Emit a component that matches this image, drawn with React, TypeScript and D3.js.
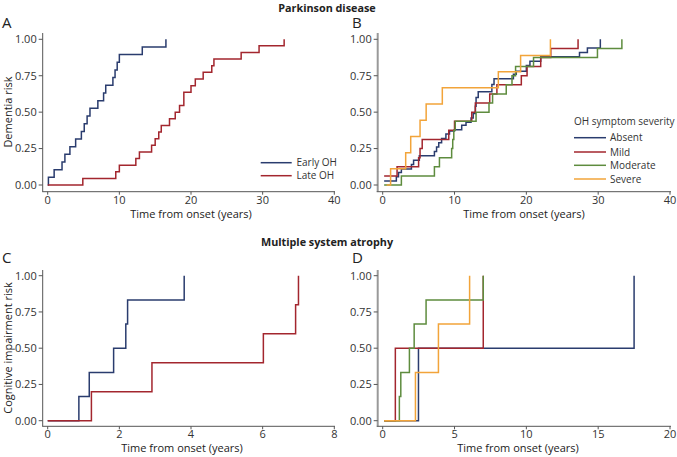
import React from "react";
import * as d3 from "d3";

// ---- Data ----
const yTicks = [0, 0.25, 0.5, 0.75, 1];
const xTicksPD = [0, 10, 20, 30, 40];
const xTicksMSAC = [0, 2, 4, 6, 8];
const xTicksMSAD = [0, 5, 10, 15, 20];

// Panel A
const earlyOHTimes = [0, 0.1, 0.9, 2.0, 2.4, 3.1, 3.9, 4.7, 5.1, 5.5, 5.9, 7.0, 7.8, 8.1, 9.1, 9.4, 9.7, 10.0, 13.2, 16.5];
const earlyOHRisk = [0, 0.053, 0.105, 0.158, 0.211, 0.263, 0.316, 0.368, 0.421, 0.474, 0.526, 0.579, 0.632, 0.684, 0.737, 0.789, 0.842, 0.895, 0.947, 1.0];
const lateOHTimes = [0, 4.9, 9.5, 10.0, 12.3, 12.8, 14.5, 15.0, 15.5, 15.85, 17.0, 17.8, 18.4, 19.0, 20.0, 20.6, 21.7, 22.9, 23.2, 27.0, 29.5, 33.0];
const lateOHRisk = [0, 0.045, 0.091, 0.136, 0.182, 0.227, 0.273, 0.318, 0.364, 0.409, 0.455, 0.5, 0.545, 0.636, 0.682, 0.727, 0.773, 0.818, 0.864, 0.909, 0.955, 1.0];

// Panel B
const absentTimes = [0.2, 1.9, 2.2, 2.6, 4.0, 4.3, 5.1, 7.2, 7.5, 7.8, 8.2, 8.8, 9.3, 10.0, 11.0, 11.6, 12.3, 12.6, 12.9, 13.0, 13.3, 15.2, 15.5, 18.2, 18.6, 20.0, 20.5, 22.0, 27.4, 28.5, 30.3];
const absentRisk = [0.028, 0.057, 0.085, 0.11, 0.14, 0.17, 0.2, 0.23, 0.26, 0.29, 0.32, 0.35, 0.37, 0.38, 0.41, 0.43, 0.46, 0.49, 0.54, 0.6, 0.64, 0.69, 0.73, 0.76, 0.78, 0.82, 0.85, 0.88, 0.91, 0.94, 1.0];
const mildTimes = [0.2, 2.0, 5.0, 5.2, 5.5, 9.2, 10.0, 12.4, 12.9, 14.9, 15.9, 19.3, 20.1, 22.0, 23.4, 27.2];
const mildRisk = [0.0625, 0.125, 0.1875, 0.25, 0.3125, 0.375, 0.4375, 0.5, 0.5625, 0.625, 0.6875, 0.75, 0.8125, 0.875, 0.9375, 1.0];
const moderateTimes = [0.2, 2.6, 7.2, 7.9, 9.6, 9.75, 9.9, 10.1, 13.0, 14.8, 15.3, 17.2, 18.0, 18.5, 21.0, 29.9, 33.3];
const moderateRisk = [0, 0.0625, 0.125, 0.1875, 0.25, 0.3125, 0.375, 0.4375, 0.5, 0.5625, 0.625, 0.6875, 0.75, 0.8125, 0.875, 0.9375, 1.0];
const severeTimes = [0.55, 1.1, 3.2, 3.9, 5.2, 6.05, 8.3, 16.1, 19.2, 23.35];
const severeRisk = [0, 0.111, 0.222, 0.333, 0.444, 0.556, 0.667, 0.778, 0.889, 1.0];

// Panel C
const msaEarlyTimes = [0, 0.87, 1.16, 1.84, 2.18, 2.23, 3.81];
const msaEarlyRisk = [0, 0.167, 0.333, 0.5, 0.667, 0.833, 1.0];
const msaLateTimes = [0, 1.22, 2.91, 6.02, 6.92, 7.0];
const msaLateRisk = [0, 0.2, 0.4, 0.6, 0.8, 1.0];

// Panel D
const msaAbsentTimes = [0.1, 2.49, 17.5];
const msaAbsentRisk = [0, 0.5, 1.0];
const msaMildTimes = [0.1, 0.88, 7.0];
const msaMildRisk = [0, 0.5, 1.0];
const msaModerateTimes = [0.1, 1.16, 1.26, 1.86, 2.19, 3.02, 7.0];
const msaModerateRisk = [0, 0.167, 0.333, 0.5, 0.667, 0.833, 1.0];
const msaSevereTimes = [0.1, 2.28, 3.88, 6.05];
const msaSevereRisk = [0, 0.333, 0.667, 1.0];

const groupLabelsA = ["Early OH", "Late OH"];
const severityLabels = ["Absent", "Mild", "Moderate", "Severe"];

// ---- Styles ----
const NAVY = "#2a3c6e";
const RED = "#a3262e";
const GREEN = "#5e8c3e";
const ORANGE = "#f2a43a";
const FONT = "'Open Sans', 'Noto Sans', sans-serif";

type Series = { times: number[]; risk: number[]; color: string };

type PanelProps = {
  letter: string;
  letterX: number;
  letterY: number;
  xDomain: [number, number];
  xRange: [number, number];
  yRange: [number, number];
  axisX: number;
  axisY: number;
  axisTop: number;
  axisRight: number;
  xTicks: number[];
  series: Series[];
  xTitle: string;
  xTitleX: number;
  xTitleY: number;
  yTitle?: string;
  yTitleY?: number;
  yAxisColor: string;
  yAxisWidth: number;
};

function Panel(p: PanelProps) {
  const x = d3.scaleLinear().domain(p.xDomain).range(p.xRange);
  const y = d3.scaleLinear().domain([0, 1]).range(p.yRange);
  const line = d3
    .line<[number, number]>()
    .x((d) => x(d[0]))
    .y((d) => y(d[1]))
    .curve(d3.curveStepAfter);
  return (
    <g>
      <text x={p.letterX} y={p.letterY} fontSize={15} fill="#222" fontFamily={FONT}>
        {p.letter}
      </text>
      {/* y axis */}
      <line x1={p.axisX} x2={p.axisX} y1={p.axisTop} y2={p.axisY} stroke={p.yAxisColor} strokeWidth={p.yAxisWidth} />
      {yTicks.map((t) => (
        <g key={"y" + t}>
          <line x1={p.axisX - 4} x2={p.axisX} y1={y(t)} y2={y(t)} stroke="#555" strokeWidth={1} />
          <text x={p.axisX - 6} y={y(t)} dy="0.35em" textAnchor="end" fontSize={11} fill="#333" fontFamily={FONT}>
            {t.toFixed(2)}
          </text>
        </g>
      ))}
      {/* x axis */}
      <line x1={p.axisX - p.yAxisWidth / 2} x2={p.axisRight} y1={p.axisY} y2={p.axisY} stroke="#555" strokeWidth={1} />
      {p.xTicks.map((t) => (
        <g key={"x" + t}>
          <line x1={x(t)} x2={x(t)} y1={p.axisY} y2={p.axisY + 3} stroke="#555" strokeWidth={1} />
          <text x={x(t)} y={p.axisY + 12} textAnchor="middle" fontSize={11} fill="#333" fontFamily={FONT}>
            {t}
          </text>
        </g>
      ))}
      <text x={p.xTitleX} y={p.xTitleY} textAnchor="middle" fontSize={11} fill="#222" fontFamily={FONT}>
        {p.xTitle}
      </text>
      {p.yTitle && (
        <text
          transform={`translate(12,${p.yTitleY}) rotate(-90)`}
          textAnchor="middle"
          fontSize={11}
          fill="#222"
          fontFamily={FONT}
        >
          {p.yTitle}
        </text>
      )}
      {p.series.map((s, i) => {
        const pts: [number, number][] = s.times.map((t, j) => [t, s.risk[j]]);
        return <path key={i} d={line(pts) || ""} fill="none" stroke={s.color} strokeWidth={1.5} />;
      })}
    </g>
  );
}

export default function App() {
  const seriesA: Series[] = [
    { times: earlyOHTimes, risk: earlyOHRisk, color: NAVY },
    { times: lateOHTimes, risk: lateOHRisk, color: RED },
  ];
  const seriesB: Series[] = [
    { times: absentTimes, risk: absentRisk, color: NAVY },
    { times: mildTimes, risk: mildRisk, color: RED },
    { times: moderateTimes, risk: moderateRisk, color: GREEN },
    { times: severeTimes, risk: severeRisk, color: ORANGE },
  ];
  const seriesC: Series[] = [
    { times: msaEarlyTimes, risk: msaEarlyRisk, color: NAVY },
    { times: msaLateTimes, risk: msaLateRisk, color: RED },
  ];
  const seriesD: Series[] = [
    { times: msaAbsentTimes, risk: msaAbsentRisk, color: NAVY },
    { times: msaMildTimes, risk: msaMildRisk, color: RED },
    { times: msaModerateTimes, risk: msaModerateRisk, color: GREEN },
    { times: msaSevereTimes, risk: msaSevereRisk, color: ORANGE },
  ];
  const colorsA = [NAVY, RED];
  const colorsB = [NAVY, RED, GREEN, ORANGE];
  const legendBY = [137.7, 152, 165.3, 179];

  return (
    <svg width={677} height={457} style={{ position: "absolute", left: 0, top: 0, background: "#fff" }} fontFamily={FONT}>
      <rect width={677} height={457} fill="#fff" />
      <text x={327} y={12} textAnchor="middle" fontSize={10.8} fontWeight="bold" fill="#222" fontFamily={FONT}>
        Parkinson disease
      </text>
      <text x={327} y={246} textAnchor="middle" fontSize={10.8} fontWeight="bold" fill="#222" fontFamily={FONT}>
        Multiple system atrophy
      </text>

      <Panel
        letter="A" letterX={2} letterY={28}
        xDomain={[0, 40]} xRange={[47.7, 334.3]} yRange={[185, 39.3]}
        axisX={42.7} axisY={191.7} axisTop={33} axisRight={335}
        xTicks={xTicksPD} series={seriesA}
        xTitle="Time from onset (years)" xTitleX={191} xTitleY={218}
        yTitle="Dementia risk" yTitleY={112}
        yAxisColor="#555" yAxisWidth={1}
      />
      <Panel
        letter="B" letterX={352} letterY={28}
        xDomain={[0, 40]} xRange={[382.7, 670]} yRange={[185, 39.3]}
        axisX={377.7} axisY={191.7} axisTop={33} axisRight={671}
        xTicks={xTicksPD} series={seriesB}
        xTitle="Time from onset (years)" xTitleX={524} xTitleY={218}
        yAxisColor="#999" yAxisWidth={2}
      />
      <Panel
        letter="C" letterX={2} letterY={263}
        xDomain={[0, 8]} xRange={[47.7, 334.3]} yRange={[420.7, 275.7]}
        axisX={42.7} axisY={426.3} axisTop={270} axisRight={335}
        xTicks={xTicksMSAC} series={seriesC}
        xTitle="Time from onset (years)" xTitleX={182} xTitleY={452}
        yTitle="Cognitive impairment risk" yTitleY={348}
        yAxisColor="#555" yAxisWidth={1}
      />
      <Panel
        letter="D" letterX={352} letterY={263}
        xDomain={[0, 20]} xRange={[382.7, 670]} yRange={[420.7, 275.7]}
        axisX={377.7} axisY={426.3} axisTop={270} axisRight={671}
        xTicks={xTicksMSAD} series={seriesD}
        xTitle="Time from onset (years)" xTitleX={518} xTitleY={452}
        yAxisColor="#999" yAxisWidth={2}
      />

      {/* Legend A */}
      {groupLabelsA.map((lab, i) => (
        <g key={lab}>
          <line x1={260.7} x2={291.7} y1={162.7 + i * 13} y2={162.7 + i * 13} stroke={colorsA[i]} strokeWidth={1.5} />
          <text x={296.5} y={162.7 + i * 13} dy="0.35em" fontSize={10} fill="#333" fontFamily={FONT}>
            {lab}
          </text>
        </g>
      ))}
      {/* Legend B */}
      <text x={574} y={125} fontSize={10} fill="#333" fontFamily={FONT}>
        OH symptom severity
      </text>
      {severityLabels.map((lab, i) => (
        <g key={lab}>
          <line x1={574} x2={606} y1={legendBY[i]} y2={legendBY[i]} stroke={colorsB[i]} strokeWidth={1.5} />
          <text x={610} y={legendBY[i]} dy="0.35em" fontSize={10} fill="#333" fontFamily={FONT}>
            {lab}
          </text>
        </g>
      ))}
    </svg>
  );
}
